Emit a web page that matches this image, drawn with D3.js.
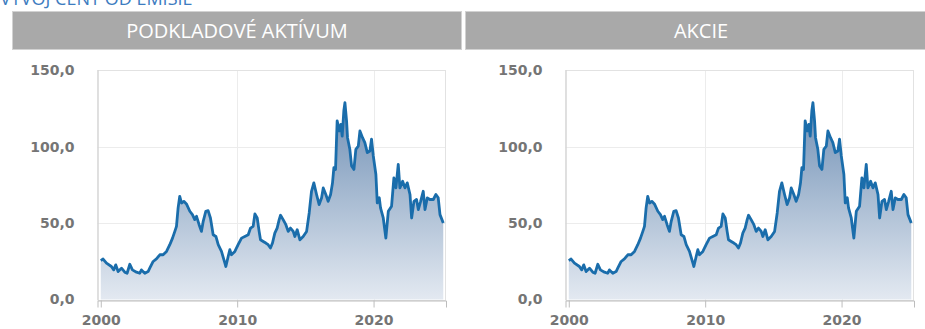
<!DOCTYPE html>
<html>
<head>
<meta charset="utf-8">
<script src="https://cdn.jsdelivr.net/npm/d3@7"></script>
<style>
  body { margin: 0; background: #fff; }
  svg { display: block; }
</style>
</head>
<body>
<svg id="chart" width="925" height="329"></svg>
<script>
// values (both panels show the same series)
var years = [2000.00,2000.17,2000.42,2000.78,2000.95,2001.10,2001.27,2001.52,2001.76,2001.93,
  2002.13,2002.32,2002.62,2002.86,2002.98,2003.23,2003.47,2003.59,2003.84,2004.08,
  2004.33,2004.57,2004.82,2005.06,2005.26,2005.43,2005.55,2005.67,2005.79,2005.92,
  2006.09,2006.28,2006.53,2006.72,2006.89,2007.02,2007.21,2007.38,2007.51,2007.70,
  2007.87,2008.04,2008.24,2008.44,2008.61,2008.85,2009.10,2009.17,2009.34,2009.46,
  2009.58,2009.83,2010.07,2010.32,2010.56,2010.81,2010.98,2011.17,2011.30,2011.47,
  2011.61,2011.71,2011.91,2012.10,2012.27,2012.44,2012.59,2012.76,2012.93,2013.08,
  2013.18,2013.37,2013.57,2013.74,2013.91,2014.11,2014.23,2014.40,2014.60,2014.84,
  2015.09,2015.28,2015.45,2015.62,2015.82,2016.01,2016.19,2016.31,2016.50,2016.67,
  2016.85,2016.99,2017.09,2017.21,2017.33,2017.48,2017.60,2017.70,2017.82,2017.90,
  2018.02,2018.09,2018.26,2018.39,2018.56,2018.70,2018.88,2019.00,2019.19,2019.36,
  2019.54,2019.73,2019.85,2019.98,2020.17,2020.27,2020.42,2020.51,2020.71,2020.90,
  2021.08,2021.32,2021.49,2021.64,2021.81,2021.93,2022.13,2022.30,2022.47,2022.67,
  2022.79,2022.96,2023.15,2023.28,2023.45,2023.64,2023.77,2023.94,2024.13,2024.38,
  2024.57,2024.74,2024.87,2025.11];
var prices = [25.5,26.5,23.8,21.6,19.4,22.7,18.3,20.5,17.9,17.2,
  23.1,19.4,17.9,17.2,19.4,17.2,18.3,20.5,24.9,26.6,
  29.3,29.3,31.5,35.9,40.2,44.6,47.9,60.0,67.6,63.2,
  64.3,62.6,57.8,55.6,52.3,54.5,49.0,44.6,51.2,57.8,
  58.2,53.4,42.4,41.3,35.9,31.5,23.8,21.6,28.2,32.6,
  29.3,31.5,35.9,40.2,41.3,42.4,46.8,47.9,56.0,53.4,
  44.6,39.1,38.0,37.0,35.9,33.7,37.0,43.5,46.8,52.3,
  55.2,52.3,49.0,44.6,46.8,44.6,41.3,45.7,39.1,41.3,
  44.6,56.7,70.9,76.4,68.8,62.2,66.6,73.1,68.8,64.3,
  68.8,76.4,86.3,85.2,117.0,110.4,114.7,107.0,123.6,129.0,
  117.0,106.0,98.4,87.4,85.2,98.4,100.5,110.4,106.0,102.8,
  96.2,97.3,105.0,94.0,81.9,63.3,66.6,60.0,53.4,40.2,
  57.8,61.1,79.7,73.1,88.5,73.1,77.5,73.1,76.4,68.8,
  53.4,64.3,65.5,58.9,64.3,70.9,58.9,66.6,65.5,65.5,
  68.8,66.6,55.6,50.1];
var panelTitles = ["PODKLADOVÉ AKTÍVUM", "AKCIE"];
var yTicks = [0, 50, 100, 150];
var xTicks = [2000, 2010, 2020];

var svg = d3.select("#chart");
var fmt = function(v){ return d3.format(".1f")(v).replace(".", ","); };

// page title, mostly scrolled off the top (as in the original)
svg.append("text")
   .attr("x", 0).attr("y", 5)
   .attr("font-family", "Open Sans").attr("font-size", 18)
   .attr("fill", "#3d7cc0")
   .text("VÝVOJ CENY OD EMISIE");

var defs = svg.append("defs");
defs.append("linearGradient")
    .attr("id", "fade")
    .attr("x1", 0).attr("y1", 0).attr("x2", 0).attr("y2", 1)
    .selectAll("stop")
    .data([["0%", "#7090b5"], ["100%", "#e3e9f1"]])
    .enter().append("stop")
    .attr("offset", function(d){ return d[0]; })
    .attr("stop-color", function(d){ return d[1]; });

var data = years.map(function(y, i){ return {year: y, value: prices[i]}; });

var panels = [
  {title: panelTitles[0], barX: 12, barW: 450, textX: 237, dx: 0},
  {title: panelTitles[1], barX: 465, barW: 472, textX: 701, dx: 468}
];

panels.forEach(function(p){
  // header bar
  svg.append("rect")
     .attr("x", p.barX + 0.5).attr("y", 11.5)
     .attr("width", p.barW - 1).attr("height", 38)
     .attr("fill", "#a9a9a9").attr("stroke", "#d2d2d2");
  svg.append("text")
     .attr("x", p.textX).attr("y", 38)
     .attr("text-anchor", "middle")
     .attr("font-family", "Open Sans").attr("font-size", 20)
     .attr("fill", "#fff")
     .text(p.title);

  var left = 97.5 + p.dx, right = 446 + p.dx, top = 70, bottom = 300;

  var x = d3.scaleLinear().domain([1999.76, 2025.31]).range([left, right]);
  var y = d3.scaleLinear().domain([0, 150]).range([299.5, 70.5]);

  var g = svg.append("g");

  // grid
  g.selectAll(".gy").data([50, 100]).enter().append("line")
   .attr("x1", left).attr("x2", right)
   .attr("y1", function(d){ return Math.round(y(d)) + 0.5; })
   .attr("y2", function(d){ return Math.round(y(d)) + 0.5; })
   .attr("stroke", "#ececec");
  g.selectAll(".gx").data([2010, 2020]).enter().append("line")
   .attr("y1", top).attr("y2", bottom)
   .attr("x1", function(d){ return Math.round(x(d)) + 0.5; })
   .attr("x2", function(d){ return Math.round(x(d)) + 0.5; })
   .attr("stroke", "#ececec");

  // border
  g.append("rect")
   .attr("x", left + 0.5).attr("y", top + 0.5)
   .attr("width", right - left - 1).attr("height", bottom - top)
   .attr("fill", "none").attr("stroke", "#e2e2e2");
  g.append("line")
   .attr("x1", left + 0.5).attr("x2", left + 0.5)
   .attr("y1", top).attr("y2", bottom)
   .attr("stroke", "#cfcfcf");

  var area = d3.area()
    .x(function(d){ return x(d.year); })
    .y0(y(0))
    .y1(function(d){ return y(d.value); });
  var line = d3.line()
    .x(function(d){ return x(d.year); })
    .y(function(d){ return y(d.value); });

  g.append("path").datum(data)
   .attr("d", area)
   .attr("fill", "url(#fade)");
  g.append("path").datum(data)
   .attr("d", line)
   .attr("fill", "none")
   .attr("stroke", "#1a6dab")
   .attr("stroke-width", 2.8)
   .attr("stroke-linejoin", "round");

  // x axis
  var xa = g.append("g")
    .attr("transform", "translate(0," + (bottom + 0.5) + ")")
    .call(d3.axisBottom(x).tickValues(xTicks).tickFormat(d3.format("d"))
            .tickSize(7).tickPadding(8));
  xa.select(".domain").attr("stroke", "#bdbdbd");
  xa.selectAll(".tick line").attr("stroke", "#bdbdbd");
  xa.selectAll("text")
    .attr("font-family", "DejaVu Sans").attr("font-weight", "bold")
    .attr("font-size", 14).attr("fill", "#757575");

  // y labels
  g.selectAll(".yl").data(yTicks).enter().append("text")
   .attr("x", left - 23)
   .attr("y", function(d){ return y(d); })
   .attr("dy", "0.35em")
   .attr("text-anchor", "end")
   .attr("font-family", "DejaVu Sans").attr("font-weight", "bold")
   .attr("font-size", 14).attr("fill", "#757575")
   .text(fmt);
});
</script>
</body>
</html>
